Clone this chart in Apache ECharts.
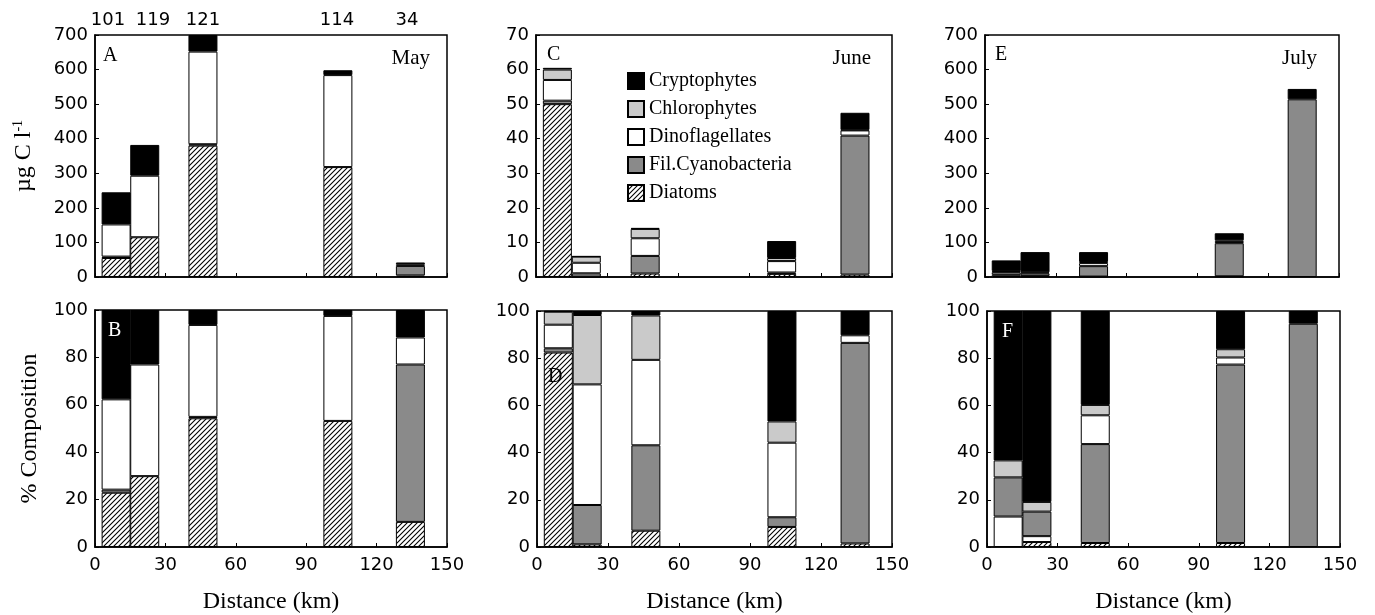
<!DOCTYPE html>
<html><head><meta charset="utf-8">
<script src="https://cdn.jsdelivr.net/npm/echarts@6/dist/echarts.min.js"></script>
<style>html,body{margin:0;padding:0;background:#fff}#c{width:1375px;height:615px}</style>
</head><body><div id="c"></div>
<script>
// ---- data ----
const distanceKm = [9, 21.2, 46, 103.5, 134.4];
const stationLabels = ['101', '119', '121', '114', '34'];
const xTicks = [0, 30, 60, 90, 120, 150];

// A: May, µg C l-1
const mayDiatoms = [55, 115, 380, 318, 4.5];
const mayCyano   = [4, 0, 4, 0, 27.5];
const mayDino    = [93, 178, 268, 266, 5];
const mayChloro  = [0, 0, 0, 0, 0];
const mayCrypto  = [93, 89, 48, 14, 5];
// B: May, % composition
const mayPctDiatoms = [22.9, 29.9, 54.3, 53.2, 10.6];
const mayPctCyano   = [1.3, 0, 0.6, 0, 66.4];
const mayPctDino    = [38.1, 47.1, 38.8, 44.3, 11.4];
const mayPctChloro  = [0, 0, 0, 0, 0];
const mayPctCrypto  = [37.7, 23, 6.3, 2.5, 11.6];
// C: June, µg C l-1
const junDiatoms = [50, 0.07, 1.0, 0.9, 0.7];
const junCyano   = [1, 1.0, 5.1, 0.4, 40.2];
const junDino    = [6, 3.05, 5.1, 3.3, 1.5];
const junChloro  = [3, 1.77, 2.7, 0.9, 0.2];
const junCrypto  = [0.5, 0.12, 0.3, 4.9, 4.9];
// D: June, %
const junPctDiatoms = [82.4, 1.1, 6.9, 8.5, 1.5];
const junPctCyano   = [1.8, 16.7, 36.2, 4.1, 85];
const junPctDino    = [10, 51.1, 36.2, 31.6, 3.2];
const junPctChloro  = [5.5, 29.4, 18.8, 9, 0];
const junPctCrypto  = [0.3, 1.7, 1.9, 46.8, 10.3];
// E: July, µg C l-1 (white layer below cyanobacteria at first two stations)
const julDiatoms = [0, 1.4, 1.2, 2.1, 0];
const julDinoLow = [6.2, 1.9, 0, 0, 0];
const julCyano   = [7.9, 7.4, 30.2, 95.7, 514];
const julDino    = [0, 0, 8.8, 3.8, 0];
const julChloro  = [3.4, 2.9, 3.2, 4.4, 0];
const julCrypto  = [30.5, 58.4, 28.6, 20.5, 30];
// F: July, %
const julPctDiatoms = [0, 2.1, 1.7, 1.7, 0];
const julPctDinoLow = [12.9, 2.5, 0, 0, 0];
const julPctCyano   = [16.6, 10.4, 41.9, 75.6, 94.6];
const julPctDino    = [0, 0, 12.2, 3, 0];
const julPctChloro  = [7.2, 4.1, 4.4, 3.5, 0];
const julPctCrypto  = [63.3, 80.9, 39.8, 16.2, 5.4];

// ---- styles ----
function hatch() {
  const s = 5;
  const c = document.createElement('canvas');
  c.width = s; c.height = s;
  const g = c.getContext('2d');
  g.fillStyle = '#fff'; g.fillRect(0, 0, s, s);
  g.strokeStyle = '#000'; g.lineWidth = 1.1;
  g.beginPath();
  g.moveTo(0, s); g.lineTo(s, 0);
  g.moveTo(-1, 1); g.lineTo(1, -1);
  g.moveTo(s - 1, s + 1); g.lineTo(s + 1, s - 1);
  g.stroke();
  return c;
}
const colors = {
  'Diatoms': { image: hatch(), repeat: 'repeat' },
  'Fil.Cyanobacteria': '#8a8a8a',
  'Dinoflagellates': '#ffffff',
  'Chlorophytes': '#cacaca',
  'Cryptophytes': '#000000'
};
const SANS = 'DejaVu Sans';
const SERIF = 'Liberation Serif';

const panels = [
  { layers: [['Diatoms', mayDiatoms], ['Fil.Cyanobacteria', mayCyano], ['Dinoflagellates', mayDino], ['Chlorophytes', mayChloro], ['Cryptophytes', mayCrypto]], max: 700, interval: 100 },
  { layers: [['Diatoms', mayPctDiatoms], ['Fil.Cyanobacteria', mayPctCyano], ['Dinoflagellates', mayPctDino], ['Chlorophytes', mayPctChloro], ['Cryptophytes', mayPctCrypto]], max: 100, interval: 20 },
  { layers: [['Diatoms', junDiatoms], ['Fil.Cyanobacteria', junCyano], ['Dinoflagellates', junDino], ['Chlorophytes', junChloro], ['Cryptophytes', junCrypto]], max: 70, interval: 10 },
  { layers: [['Diatoms', junPctDiatoms], ['Fil.Cyanobacteria', junPctCyano], ['Dinoflagellates', junPctDino], ['Chlorophytes', junPctChloro], ['Cryptophytes', junPctCrypto]], max: 100, interval: 20 },
  { layers: [['Diatoms', julDiatoms], ['Dinoflagellates', julDinoLow], ['Fil.Cyanobacteria', julCyano], ['Dinoflagellates', julDino], ['Chlorophytes', julChloro], ['Cryptophytes', julCrypto]], max: 700, interval: 100 },
  { layers: [['Diatoms', julPctDiatoms], ['Dinoflagellates', julPctDinoLow], ['Fil.Cyanobacteria', julPctCyano], ['Dinoflagellates', julPctDino], ['Chlorophytes', julPctChloro], ['Cryptophytes', julPctCrypto]], max: 100, interval: 20 }
];
// grid boxes: [left, top, width, height]
const boxes = [
  [95, 35, 352, 242], [95, 310, 352, 239],
  [536, 35, 356, 242], [537, 311, 355, 239],
  [985, 35, 354, 242], [987, 311, 353, 240]
];

const grids = [], xAxes = [], yAxes = [], series = [];
panels.forEach((p, gi) => {
  const b = boxes[gi];
  const bottomRow = gi % 2 === 1;
  grids.push({ left: b[0], top: b[1], width: b[2], height: b[3], show: true, borderColor: '#000', borderWidth: 1.5, containLabel: false });
  xAxes.push({
    type: 'value', gridIndex: gi, min: xTicks[0], max: xTicks[xTicks.length - 1], interval: 30,
    axisLine: { show: true, lineStyle: { color: '#000', width: 1.5 } },
    axisTick: { show: true, inside: true, length: 4, lineStyle: { color: '#000' } },
    splitLine: { show: false },
    axisLabel: { show: bottomRow, color: '#000', fontFamily: SANS, fontSize: 18, margin: 9 },
    name: bottomRow ? 'Distance (km)' : '', nameLocation: 'middle', nameGap: 43,
    nameTextStyle: { fontFamily: SERIF, fontSize: 24, color: '#000' }
  });
  const y = {
    type: 'value', gridIndex: gi, min: 0, max: p.max, interval: p.interval,
    axisLine: { show: true, lineStyle: { color: '#000', width: 1.5 } },
    axisTick: { show: true, inside: true, length: 4, lineStyle: { color: '#000' } },
    splitLine: { show: false },
    axisLabel: { color: '#000', fontFamily: SANS, fontSize: 18, margin: 7 }
  };
  if (gi === 0) {
    y.name = '{t|µg C l}{s|-1}';
    y.nameLocation = 'middle'; y.nameGap = 58;
    y.nameTextStyle = { padding: [0, 0, 0, 0], rich: { t: { fontFamily: SERIF, fontSize: 24, color: '#000', lineHeight: 26 }, s: { fontFamily: SERIF, fontSize: 14, color: '#000', verticalAlign: 'top', lineHeight: 26 } } };
  }
  if (gi === 1) {
    y.name = '% Composition';
    y.nameLocation = 'middle'; y.nameGap = 53;
    y.nameTextStyle = { fontFamily: SERIF, fontSize: 24, color: '#000' };
  }
  yAxes.push(y);
  p.layers.forEach(([name, vals]) => {
    series.push({
      type: 'bar', name: name, xAxisIndex: gi, yAxisIndex: gi, stack: 'g' + gi,
      barWidth: 29, silent: true,
      // value first so that the stack is computed on the value dimension
      dimensions: ['amount', 'km'],
      encode: { x: 1, y: 0 },
      itemStyle: { color: colors[name], borderColor: '#000', borderWidth: 1 },
      data: vals.map((v, i) => [v > 0 ? v : '-', distanceKm[i]])
    });
  });
});

const txt = (text, x, y, opts) => ({ type: 'text', x: x, y: y, z: 100, style: Object.assign({ text: text, fill: '#000', font: '20px "Liberation Serif"', textVerticalAlign: 'middle' }, opts || {}) });
const graphics = [
  txt('A', 103, 56), txt('May', 430, 58, { textAlign: 'right', font: '21px "Liberation Serif"' }),
  txt('C', 547, 55), txt('June', 871, 58, { textAlign: 'right', font: '21px "Liberation Serif"' }),
  txt('E', 995, 55), txt('July', 1317, 58, { textAlign: 'right', font: '21px "Liberation Serif"' }),
  txt('B', 108, 331, { fill: '#fff' }), txt('D', 548, 377), txt('F', 1002, 332, { fill: '#fff' })
];
const stationX = [108, 153, 203, 337, 407];
stationLabels.forEach((s, i) => graphics.push(txt(s, stationX[i], 20, { textAlign: 'center', font: '18px "DejaVu Sans"' })));

const chart = echarts.init(document.getElementById('c'), null, { renderer: 'canvas' });
chart.setOption({
  animation: false,
  backgroundColor: '#fff',
  grid: grids, xAxis: xAxes, yAxis: yAxes, series: series,
  legend: {
    data: ['Cryptophytes', 'Chlorophytes', 'Dinoflagellates', 'Fil.Cyanobacteria', 'Diatoms'],
    orient: 'vertical', left: 622, top: 66, itemWidth: 16, itemHeight: 16, itemGap: 8,
    icon: 'rect', selectedMode: false,
    itemStyle: { borderColor: '#000', borderWidth: 2 },
    textStyle: { fontFamily: SERIF, fontSize: 20, color: '#000' }
  },
  graphic: graphics
});
</script></body></html>
